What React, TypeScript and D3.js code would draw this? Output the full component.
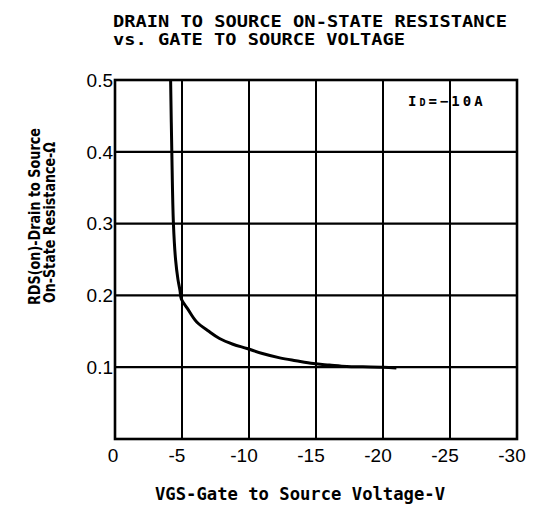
import React from "react";
import * as d3 from "d3";

const titleLines = ["DRAIN TO SOURCE ON-STATE RESISTANCE", "vs. GATE TO SOURCE VOLTAGE"];
const xTicks = [0, -5, -10, -15, -20, -25, -30];
const xTickLabels = ["0", "-5", "-10", "-15", "-20", "-25", "-30"];
const yTicks = [0.1, 0.2, 0.3, 0.4, 0.5];
const yTickLabels = ["0.1", "0.2", "0.3", "0.4", "0.5"];
const vgs = [-4.15, -4.24, -4.36, -4.52, -4.7, -4.85, -4.95, -5.4, -6.1, -7.0, -7.8, -8.8, -9.85, -11, -12.3, -13.5, -14.8, -16, -17.3, -18.5, -20, -21];
const rds = [0.5, 0.4, 0.3, 0.25, 0.222, 0.207, 0.195, 0.182, 0.163, 0.15, 0.14, 0.132, 0.126, 0.119, 0.113, 0.109, 0.105, 0.103, 0.101, 0.1005, 0.1, 0.099];
const xTitle = "VGS-Gate to Source Voltage-V";
const yTitle1 = "RDS(on)-Drain to Source";
const yTitle2 = "On-State Resistance-Ω";

export default function App() {
  const left = 115, right = 517, top = 80, bottom = 439;
  const x = d3.scaleLinear().domain([0, -30]).range([left, right]);
  const y = d3.scaleLinear().domain([0, 0.5]).range([bottom, top]);
  const pts: [number, number][] = vgs.map((v, i) => [v, rds[i]]);
  const line = d3
    .line<[number, number]>()
    .x((d) => x(d[0]))
    .y((d) => y(d[1]))
    .curve(d3.curveCatmullRom.alpha(0.5));
  const mono = "'DejaVu Sans Mono', monospace";
  const sans = "'Liberation Sans', Arial, sans-serif";
  return (
    <svg
      width={538}
      height={506}
      style={{ position: "absolute", left: 0, top: 0, background: "#fff" }}
    >
      <rect x={0} y={0} width={538} height={506} fill="#fff" />
      <text x={113} y={27} fontFamily={mono} fontWeight="bold" fontSize={15} textLength={394} lengthAdjust="spacingAndGlyphs">
        {titleLines[0]}
      </text>
      <text x={113} y={45} fontFamily={mono} fontWeight="bold" fontSize={15} textLength={292} lengthAdjust="spacingAndGlyphs">
        {titleLines[1]}
      </text>
      {xTicks.slice(1, -1).map((t) => (
        <line key={"vx" + t} x1={x(t)} x2={x(t)} y1={top} y2={bottom} stroke="#000" strokeWidth={2} />
      ))}
      {yTicks.slice(0, -1).map((t) => (
        <line key={"hy" + t} x1={left} x2={right} y1={y(t)} y2={y(t)} stroke="#000" strokeWidth={2.2} />
      ))}
      <rect x={left} y={top} width={right - left} height={bottom - top} fill="none" stroke="#000" strokeWidth={2.6} />
      <path d={line(pts) || ""} fill="none" stroke="#000" strokeWidth={3} strokeLinejoin="round" />
      {xTicks.map((t, i) => (
        <text key={"xl" + t} x={x(t) - (t < 0 ? 5 : 2)} y={462} textAnchor="middle" fontFamily={sans} fontSize={19}>
          {xTickLabels[i]}
        </text>
      ))}
      {yTicks.map((t, i) => (
        <text key={"yl" + t} x={113} y={y(t)} dy="0.36em" textAnchor="end" fontFamily={sans} fontSize={19}>
          {yTickLabels[i]}
        </text>
      ))}
      <text x={155} y={500} fontFamily={mono} fontWeight="bold" fontSize={17} textLength={290} lengthAdjust="spacingAndGlyphs">
        {xTitle}
      </text>
      <text transform="translate(40,305) rotate(-90)" fontFamily="'DejaVu Sans', sans-serif" fontWeight="bold" fontSize={15.5} textLength={177} lengthAdjust="spacingAndGlyphs">
        {yTitle1}
      </text>
      <text transform="translate(55,303) rotate(-90)" fontFamily="'DejaVu Sans', sans-serif" fontWeight="bold" fontSize={15.5} textLength={161} lengthAdjust="spacingAndGlyphs">
        {yTitle2}
      </text>
      <text x={408} y={106} fontFamily={mono} fontWeight="bold" fontSize={14} letterSpacing={3}>
        I<tspan fontSize={10}>D</tspan>=−10A
      </text>
    </svg>
  );
}
